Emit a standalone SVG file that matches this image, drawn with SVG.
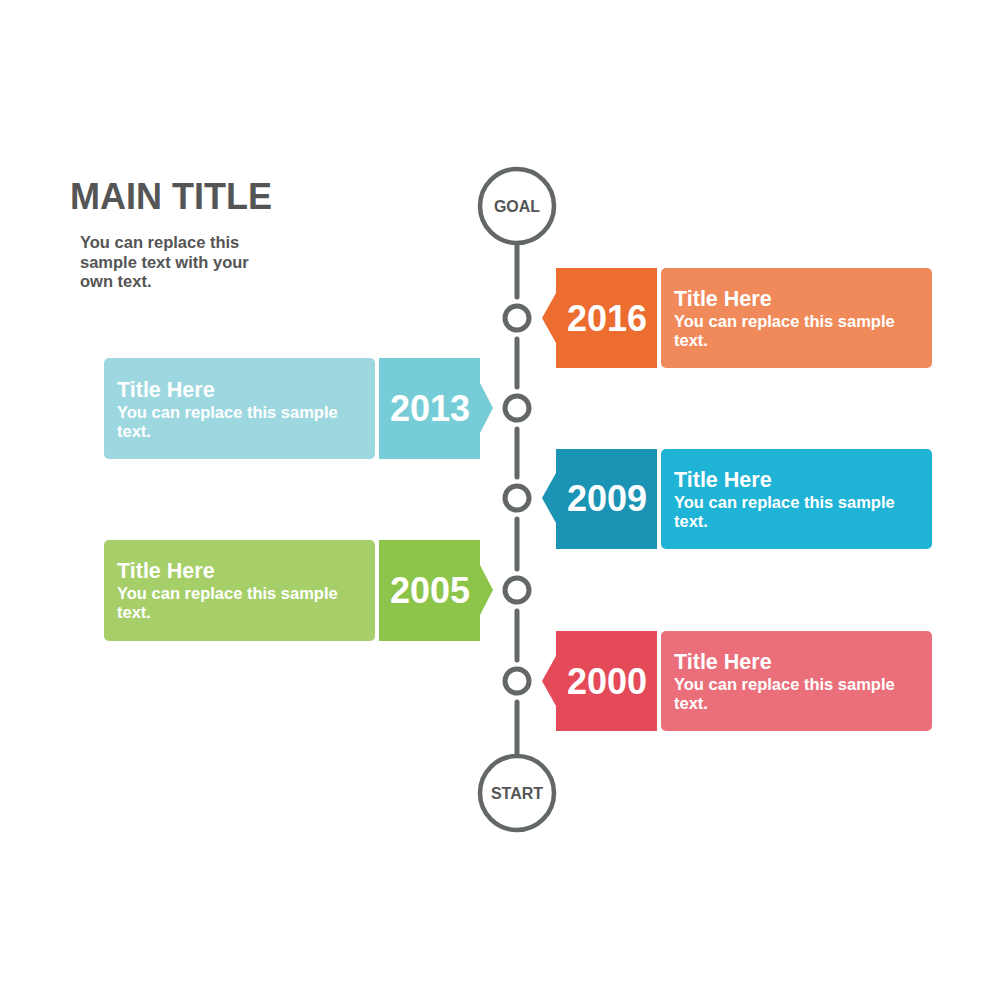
<svg xmlns="http://www.w3.org/2000/svg" width="1000" height="1000" viewBox="0 0 1000 1000">
<style>
text{font-family:"Liberation Sans",Arial,sans-serif;font-weight:bold}
.seg{stroke:#636867;stroke-width:5;stroke-linecap:round;fill:none}
.dot{stroke:#636867;stroke-width:5;fill:#fff}
.big{stroke:#636867;stroke-width:4.5;fill:#fff}
.endlbl{font-size:16px;fill:#555;text-anchor:middle}
.year{font-size:36px;fill:#fff;text-anchor:middle}
.ttl{font-size:21.5px;fill:#fff}
.sub{font-size:16.5px;fill:#fff}
</style>
<rect width="1000" height="1000" fill="#fff"/>
<g id="header">
<text x="70" y="209" font-size="36" fill="#555">MAIN TITLE</text>
<text font-size="16.5" fill="#555"><tspan x="80" y="248">You can replace this</tspan><tspan x="80" y="268">sample text with your</tspan><tspan x="80" y="287">own text.</tspan></text>
</g>
<g id="connectors">
<line class="seg" x1="517" y1="246" x2="517" y2="297"/>
<line class="seg" x1="517" y1="339" x2="517" y2="387"/>
<line class="seg" x1="517" y1="429" x2="517" y2="477"/>
<line class="seg" x1="517" y1="519" x2="517" y2="569"/>
<line class="seg" x1="517" y1="611" x2="517" y2="660"/>
<line class="seg" x1="517" y1="702" x2="517" y2="754"/>
</g>
<g id="goal">
<circle class="big" cx="517" cy="206" r="37"/>
<text class="endlbl" x="517" y="212">GOAL</text>
</g>
<g id="start">
<circle class="big" cx="517" cy="793" r="37"/>
<text class="endlbl" x="517" y="799">START</text>
</g>
<g id="dots">
<circle class="dot" cx="517" cy="318" r="12"/>
<circle class="dot" cx="517" cy="408" r="12"/>
<circle class="dot" cx="517" cy="498" r="12"/>
<circle class="dot" cx="517" cy="590" r="12"/>
<circle class="dot" cx="517" cy="681" r="12"/>
</g>
<g id="y2016">
<polygon points="556,268 657,268 657,368 556,368 556,343 542,318 556,293" fill="#ed6d31"/>
<rect x="661" y="268" width="271" height="100" rx="5" fill="#f08a5a"/>
<text class="year" x="607" y="331">2016</text>
<text class="ttl" x="674" y="306">Title Here</text>
<text class="sub"><tspan x="674" y="327">You can replace this sample</tspan><tspan x="674" y="346">text.</tspan></text>
</g>
<g id="y2013">
<rect x="104" y="358" width="271" height="101" rx="5" fill="#9dd8e0"/>
<polygon points="379,358 480,358 480,383 493,408 480,433 480,459 379,459" fill="#77cdd7"/>
<text class="year" x="430" y="421">2013</text>
<text class="ttl" x="117" y="397">Title Here</text>
<text class="sub"><tspan x="117" y="418">You can replace this sample</tspan><tspan x="117" y="437">text.</tspan></text>
</g>
<g id="y2009">
<polygon points="556,449 657,449 657,549 556,549 556,523 542,498 556,473" fill="#1b93b5"/>
<rect x="661" y="449" width="271" height="100" rx="5" fill="#1fb3d6"/>
<text class="year" x="607" y="511">2009</text>
<text class="ttl" x="674" y="487">Title Here</text>
<text class="sub"><tspan x="674" y="508">You can replace this sample</tspan><tspan x="674" y="527">text.</tspan></text>
</g>
<g id="y2005">
<rect x="104" y="540" width="271" height="101" rx="5" fill="#a6cf6a"/>
<polygon points="379,540 480,540 480,565 493,590 480,615 480,641 379,641" fill="#8dc44a"/>
<text class="year" x="430" y="603">2005</text>
<text class="ttl" x="117" y="578">Title Here</text>
<text class="sub"><tspan x="117" y="599">You can replace this sample</tspan><tspan x="117" y="618">text.</tspan></text>
</g>
<g id="y2000">
<polygon points="556,631 657,631 657,731 556,731 556,706 542,681 556,656" fill="#e44a58"/>
<rect x="661" y="631" width="271" height="100" rx="5" fill="#eb6f7a"/>
<text class="year" x="607" y="694">2000</text>
<text class="ttl" x="674" y="669">Title Here</text>
<text class="sub"><tspan x="674" y="690">You can replace this sample</tspan><tspan x="674" y="709">text.</tspan></text>
</g>
</svg>
